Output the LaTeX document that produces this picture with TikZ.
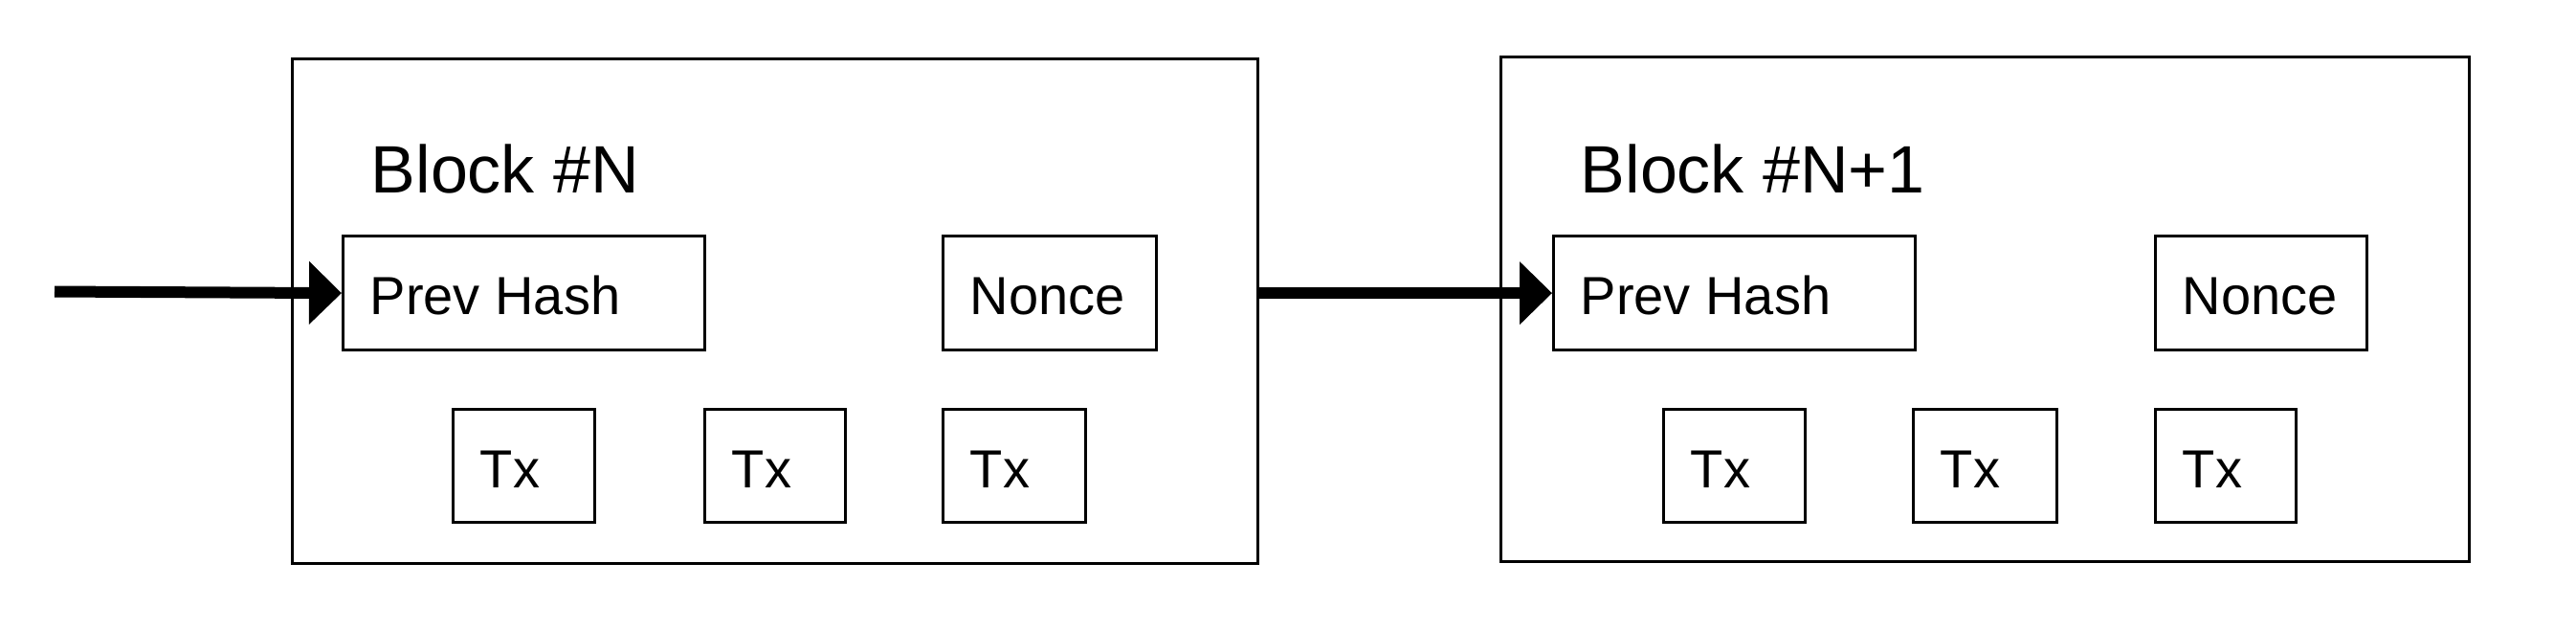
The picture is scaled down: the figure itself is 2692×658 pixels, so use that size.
\documentclass[tikz,border=0pt]{standalone}
\usepackage{fontspec}
\setmainfont{Liberation Sans}
\usetikzlibrary{arrows.meta}
\newcommand\fieldbox[6]{%
  \node[box, anchor=north west, minimum width={(#4-#2)*0.25pt}, minimum height={(#5-#3)*0.25pt}] (#1) at (#2,#3) {};
  \node[lbl] (#1-t) at ([xshift=7.25pt,yshift=-5.7pt]#1.west) {#6};}
\begin{document}
\begin{tikzpicture}[x=0.25pt,y=-0.25pt,
  box/.style={draw, line width=0.8pt, inner sep=0pt},
  lbl/.style={font=\fontsize{14}{16}\selectfont, inner sep=0pt, anchor=base west},
  title/.style={font=\fontsize{17.5}{20}\selectfont, inner sep=0pt, anchor=base west},
  link/.style={line width=3pt, -{Triangle[length=8.5pt,width=16pt]}}]
\useasboundingbox (0,0) rectangle (2692,658);
% Block N
\node[box, anchor=north west, minimum width={(1313-304)*0.25pt}, minimum height={(587-60)*0.25pt}] (b1) at (304,60) {};
\node[title] (t1) at (387,201) {Block \#N};
\fieldbox{ph1}{357}{245}{735}{364}{Prev Hash}
\fieldbox{nc1}{984}{245}{1207}{364}{Nonce}
\fieldbox{txa1}{472}{426}{620}{544}{Tx}
\fieldbox{txb1}{735}{426}{882}{544}{Tx}
\fieldbox{txc1}{984}{426}{1133}{544}{Tx}
% Block N+1
\node[box, anchor=north west, minimum width={(2579-1567)*0.25pt}, minimum height={(585-58)*0.25pt}] (b2) at (1567,58) {};
\node[title] (t2) at (1651,201) {Block \#N+1};
\fieldbox{ph2}{1622}{245}{2000}{364}{Prev Hash}
\fieldbox{nc2}{2251}{245}{2472}{364}{Nonce}
\fieldbox{txa2}{1737}{426}{1885}{544}{Tx}
\fieldbox{txb2}{1998}{426}{2148}{544}{Tx}
\fieldbox{txc2}{2251}{426}{2398}{544}{Tx}
% links
\coordinate (in) at (57,304.5);
\draw[link] (in) -- (ph1.west);
\draw[link] (b1.east |- ph2.west) -- (ph2.west);
\end{tikzpicture}
\end{document}
